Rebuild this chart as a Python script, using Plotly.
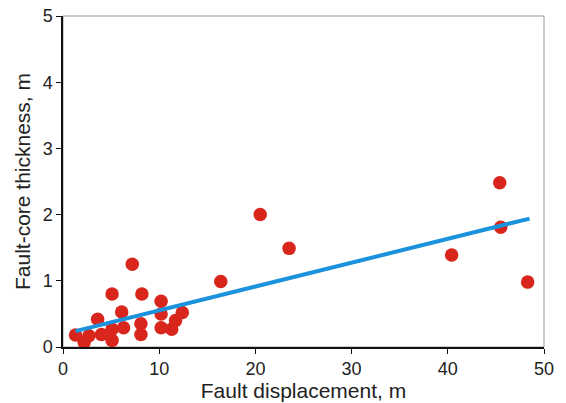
import plotly.graph_objects as go

displacement = [1.3, 2.2, 2.7, 3.6, 4.0, 5.1, 5.1, 5.1, 6.1, 6.3, 7.2, 8.2, 8.1, 8.1,
                10.2, 10.2, 10.2, 11.3, 11.7, 12.4, 16.4, 20.5, 23.5, 40.4, 45.4, 45.5, 48.3]
thickness = [0.18, 0.07, 0.17, 0.42, 0.19, 0.27, 0.10, 0.80, 0.53, 0.29, 1.25, 0.80, 0.35, 0.19,
             0.69, 0.50, 0.29, 0.27, 0.40, 0.52, 0.99, 2.00, 1.49, 1.39, 2.48, 1.81, 0.98]
trend_x = [1.3, 48.5]
trend_y = [0.24, 1.94]

x_ticks = [0, 10, 20, 30, 40, 50]
y_ticks = [0, 1, 2, 3, 4, 5]

fig = go.Figure()
fig.add_trace(go.Scatter(x=displacement, y=thickness, mode="markers",
                         marker=dict(size=13.5, color="#d9261c", line=dict(width=0)),
                         cliponaxis=False, showlegend=False))
fig.add_trace(go.Scatter(x=trend_x, y=trend_y, mode="lines",
                         line=dict(color="#1a93dc", width=4),
                         cliponaxis=False, showlegend=False))

font_family = "Liberation Sans, Arial, sans-serif"
fig.update_layout(
    width=566, height=403,
    margin=dict(l=63, r=22, t=16, b=56),
    paper_bgcolor="white", plot_bgcolor="white",
    font=dict(family=font_family, color="#222", size=18),
    shapes=[dict(type="rect", xref="paper", yref="paper", x0=0, y0=0, x1=1, y1=1,
                 line=dict(color="#9a9a9a", width=1), layer="below")],
)
fig.update_xaxes(range=[0, 50], tickvals=x_ticks, ticks="outside", ticklen=5,
                 tickcolor="#111", showline=True, linecolor="#111", linewidth=1.5,
                 showgrid=False, zeroline=False, tickfont=dict(size=18), automargin=False,
                 title=dict(text="Fault displacement, m", font=dict(size=21), standoff=2))
fig.update_yaxes(range=[0, 5], tickvals=y_ticks, ticks="outside", ticklen=5,
                 tickcolor="#111", showline=True, linecolor="#111", linewidth=1.5,
                 showgrid=False, zeroline=False, tickfont=dict(size=18), automargin=False,
                 title=dict(text="Fault-core thickness, m", font=dict(size=21), standoff=6))

fig.write_html("out.html", config={"displayModeBar": False},
               post_script="document.body.style.margin='0';document.body.style.overflow='hidden';")
